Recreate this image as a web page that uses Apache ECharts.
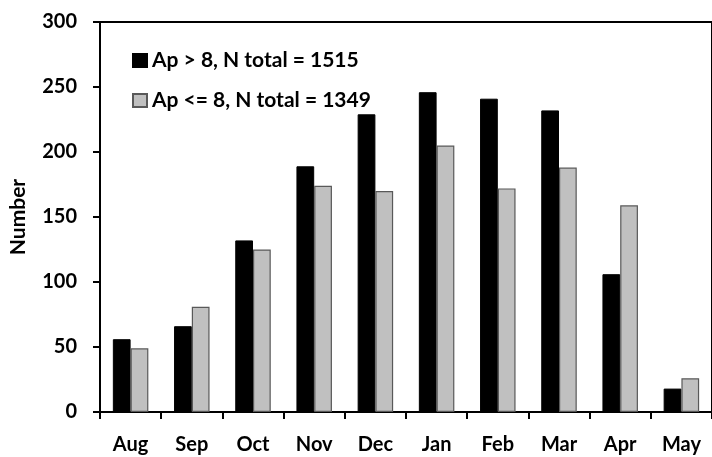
<!DOCTYPE html>
<html>
<head>
<meta charset="utf-8">
<script src="https://cdn.jsdelivr.net/npm/echarts@6/dist/echarts.min.js"></script>
<style>html,body{margin:0;padding:0;background:#fff}#c{width:712px;height:457px}</style>
</head>
<body>
<div id="c"></div>
<script>
const categories = ['Aug','Sep','Oct','Nov','Dec','Jan','Feb','Mar','Apr','May'];
const seriesNames = ['Ap > 8, N total = 1515', 'Ap <= 8, N total = 1349'];
const apHigh = [56, 66, 132, 189, 229, 246, 241, 232, 106, 18];
const apLow = [49, 81, 125, 174, 170, 205, 172, 188, 159, 26];
const yTicks = [0, 50, 100, 150, 200, 250, 300];

const FONT = 'Lato';
const chart = echarts.init(document.getElementById('c'), null, {renderer: 'canvas'});
chart.setOption({
  animation: false,
  backgroundColor: '#fff',
  textStyle: {fontFamily: FONT},
  grid: {left: 98, top: 22, width: 617, bottom: 45, show: true, borderColor: '#000', borderWidth: 2, backgroundColor: 'transparent'},
  legend: {
    orient: 'vertical', left: 127, top: 45, itemWidth: 14, itemHeight: 13, itemGap: 19,
    icon: 'rect',
    textStyle: {fontFamily: FONT, fontWeight: 'bold', fontSize: 21, color: '#000'},
    data: seriesNames
  },
  xAxis: {
    type: 'category', data: categories,
    axisLine: {lineStyle: {color: '#000', width: 2}},
    axisTick: {show: true, length: 7, inside: false, alignWithLabel: false, lineStyle: {color: '#000', width: 2}},
    axisLabel: {fontFamily: FONT, fontWeight: 'bold', fontSize: 20, color: '#000', margin: 23, interval: 0}
  },
  yAxis: {
    type: 'value', min: yTicks[0], max: yTicks[yTicks.length - 1], interval: 50,
    name: 'Number', nameLocation: 'middle', nameGap: 71,
    nameTextStyle: {fontFamily: FONT, fontWeight: 'bold', fontSize: 21, color: '#000'},
    splitLine: {show: false},
    axisLine: {show: true, lineStyle: {color: '#000', width: 2}},
    axisTick: {show: true, length: 7, lineStyle: {color: '#000', width: 2}},
    axisLabel: {fontFamily: FONT, fontWeight: 'bold', fontSize: 20, color: '#000', margin: 23}
  },
  series: [
    {name: seriesNames[0], type: 'bar', data: apHigh, barGap: '0%', barCategoryGap: '42%',
     itemStyle: {color: '#000', borderColor: '#000', borderWidth: 1}},
    {name: seriesNames[1], type: 'bar', data: apLow, barGap: '0%', barCategoryGap: '42%',
     itemStyle: {color: '#c0c0c0', borderColor: '#595959', borderWidth: 1.2}}
  ]
});
</script>
</body>
</html>
